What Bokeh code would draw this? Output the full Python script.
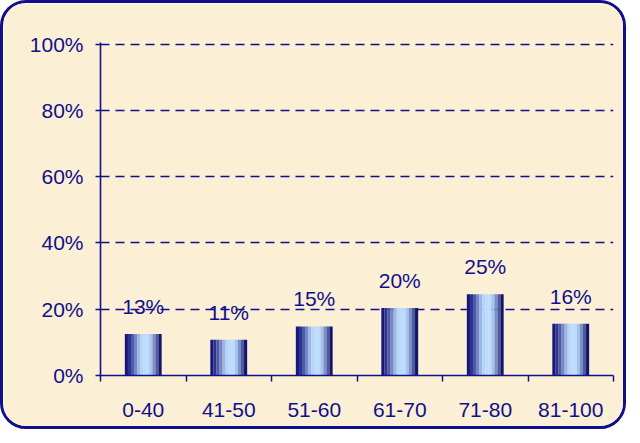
from bokeh.plotting import figure
from bokeh.models import ColumnDataSource, FixedTicker, NumeralTickFormatter
from bokeh.transform import dodge
from bokeh.core.properties import value
from bokeh.embed import file_html
from bokeh.resources import INLINE

# ---- data ----
categories = ["0-40", "41-50", "51-60", "61-70", "71-80", "81-100"]
shares = [0.125, 0.108, 0.148, 0.204, 0.245, 0.156]
share_labels = ["13%", "11%", "15%", "20%", "25%", "16%"]
y_ticks = [0, 0.2, 0.4, 0.6, 0.8, 1.0]

centers = [i + 0.5 for i in range(len(categories))]
boundaries = list(range(len(categories) + 1))

NAVY = "#10108a"
BG = "#FBEFD6"
FONT = "Liberation Sans"

src = ColumnDataSource(dict(x=centers, top=shares, lab=share_labels))

p = figure(width=626, height=429, output_backend="svg", toolbar_location=None,
           x_range=(0, len(categories)), y_range=(0, 1.005),
           min_border_left=97, min_border_right=16, min_border_top=39, min_border_bottom=57)
p.styles = {"border": f"3px solid {NAVY}", "border-radius": "26px",
            "overflow": "hidden"}
p.background_fill_color = BG
p.border_fill_color = BG
p.outline_line_color = None

# bars as vertical stripes to imitate the cylinder shading
stripe_colors = ["#16167c", "#2c3490", "#4c5aa8", "#7486c4", "#9cb6e6", "#b4d4fa",
                 "#bcdcff", "#bcdcff", "#a6c2ee", "#7c90c8", "#4e5a9e", "#14146e"]
bar_w = 0.43
n = len(stripe_colors)
sw = bar_w / n
for i, c in enumerate(stripe_colors):
    off = -bar_w / 2 + sw * (i + 0.5)
    p.vbar(x=dodge("x", off), top="top", bottom=0, width=sw * 1.02, source=src,
           fill_color=c, line_color=None)

p.text(x="x", y="top", text="lab", source=src, text_align="center",
       text_baseline="bottom", y_offset=-16, text_color=NAVY,
       text_font=value(FONT), text_font_size="21px")

# axes
p.xgrid.visible = False
p.ygrid.ticker = FixedTicker(ticks=y_ticks[1:])
p.ygrid.grid_line_color = NAVY
p.ygrid.grid_line_dash = "9 6"
p.ygrid.grid_line_width = 1.3

p.yaxis.ticker = FixedTicker(ticks=y_ticks)
p.yaxis.formatter = NumeralTickFormatter(format="0%")
p.yaxis.major_tick_out = 5
p.yaxis.major_tick_in = 0
p.yaxis.major_label_standoff = 12

p.xaxis.ticker = FixedTicker(ticks=centers, minor_ticks=boundaries)
p.xaxis.major_label_overrides = {c: lab for c, lab in zip(centers, categories)}
p.xaxis.major_tick_out = 0
p.xaxis.major_tick_in = 0
p.xaxis.minor_tick_out = 6
p.xaxis.minor_tick_in = 0
p.xaxis.major_label_standoff = 21

for ax in (p.xaxis, p.yaxis):
    ax.axis_line_color = NAVY
    ax.axis_line_width = 1.6
    ax.major_tick_line_color = NAVY
    ax.major_tick_line_width = 1.5
    ax.minor_tick_line_width = 1.5
    ax.major_label_text_color = NAVY
    ax.major_label_text_font = FONT
    ax.major_label_text_font_size = "21px"
p.xaxis.minor_tick_line_color = NAVY
p.yaxis.minor_tick_line_color = None

open("out.html", "w").write(file_html(p, INLINE))
